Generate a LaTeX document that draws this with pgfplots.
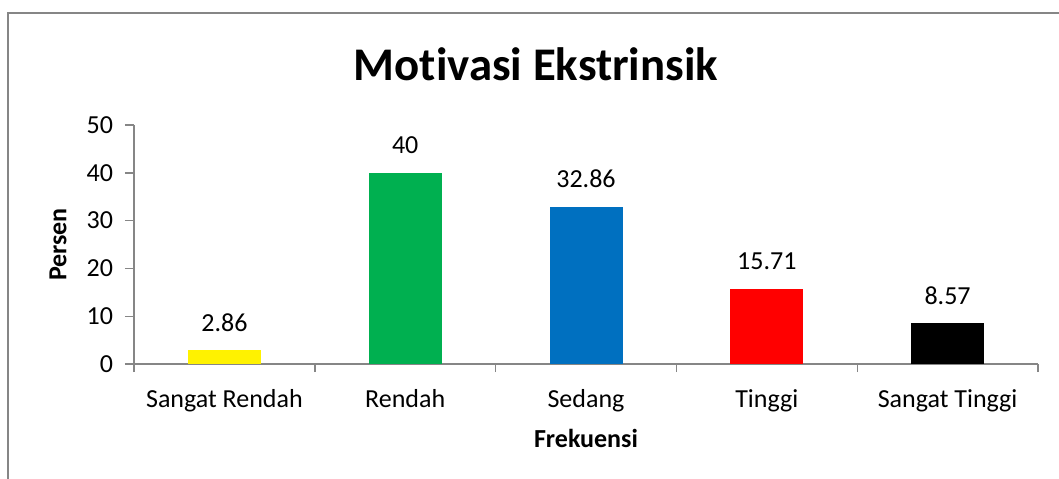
\documentclass[border=0pt]{standalone}
\usepackage{pgfplots}
\pgfplotsset{compat=1.18}
\usepackage{fontspec}
\setmainfont{Carlito}[Ligatures=NoCommon]
\definecolor{axgray}{HTML}{868686}
\definecolor{xlgreen}{HTML}{00B050}
\definecolor{xlblue}{HTML}{0070C0}
\begin{document}
\begin{tikzpicture}
\useasboundingbox (-67pt,-57pt) rectangle (462.5pt,182pt);
\fill[white] (-67pt,-57pt) rectangle (462.5pt,182pt);
\draw[axgray, line width=0.7pt] (-63pt,-70pt) -- (-63pt,175.5pt) -- (480pt,175.5pt);
\begin{axis}[at={(0,0)}, anchor=south west, scale only axis, width=452pt, height=119.5pt,
  ybar, bar width=36.5pt, bar shift=0pt,
  xmin=-0.5, xmax=4.5, ymin=0, ymax=50,
  axis lines*=left, axis line style={axgray, line width=0.7pt, -},
  xtick={0,...,4}, xticklabels={Sangat Rendah,Rendah,Sedang,Tinggi,Sangat Tinggi},
  minor xtick={-0.5,0.5,...,4.5}, major x tick style={draw=none},
  minor x tick style={axgray, line width=0.7pt},
  ytick={0,10,...,50}, y tick style={axgray, line width=0.7pt},
  tick align=outside, major tick length=4.5pt, minor tick length=4pt,
  /pgf/number format/assume math mode=true,
  tick label style={font=\fontsize{13pt}{15pt}\selectfont, text=black},
  xticklabel style={anchor=base, yshift=-17pt},
  yticklabel style={anchor=east, xshift=-2.5pt},
  nodes near coords, nodes near coords style={font=\fontsize{13pt}{15pt}\selectfont, anchor=base, yshift=9.5pt, text=black},
  xlabel={\textbf{Frekuensi}}, xlabel style={font=\fontsize{13pt}{15pt}\selectfont, at={(axis description cs:0.5,0)}, anchor=base, yshift=-41.5pt},
  clip=false]
\addplot[fill=yellow, draw=none] coordinates {(0,2.86)};
\addplot[fill=xlgreen, draw=none] coordinates {(1,40)};
\addplot[fill=xlblue, draw=none] coordinates {(2,32.86)};
\addplot[fill=red, draw=none] coordinates {(3,15.71)};
\addplot[fill=black, draw=none] coordinates {(4,8.57)};
\end{axis}
\node[rotate=90, font=\fontsize{13pt}{15pt}\selectfont\bfseries] at (-38pt,59.75pt) {Persen};
\node[anchor=base, font=\fontsize{23.4pt}{28pt}\selectfont\bfseries] at (201pt,142pt) {Motivasi Ekstrinsik};
\end{tikzpicture}
\end{document}
